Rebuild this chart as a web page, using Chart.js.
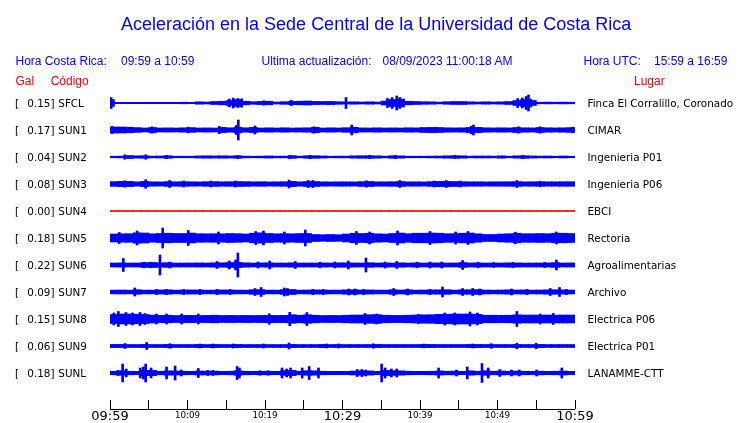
<!DOCTYPE html>
<html><head><meta charset="utf-8">
<script src="https://cdn.jsdelivr.net/npm/chart.js@4"></script>
<style>
html,body{margin:0;padding:0;background:#fff;}
#wrap{position:relative;width:740px;height:423px;overflow:hidden;background:#fff;}
#c{position:absolute;left:0;top:0;width:740px;height:423px;}
.t{position:absolute;white-space:pre;line-height:1;transform:translateY(-50%);}
.hdr{font-family:"Liberation Sans",Arial,sans-serif;font-size:12px;color:#0000ff;}
.ttl{font-family:"Liberation Sans",Arial,sans-serif;font-size:18px;color:#0000ff;}
.red{color:#ff0000;}
.lab{font-family:"DejaVu Sans",sans-serif;font-size:10.4px;color:#000;}
</style></head>
<body><div id="wrap"><canvas id="c" width="740" height="423"></canvas></div>
<script>
// ---------------- data ----------------
const title = 'Aceleración en la Sede Central de la Universidad de Costa Rica';
const hdrLocalLabel = 'Hora Costa Rica:';
const hdrLocalRange = '09:59 a 10:59';
const hdrUpdLabel = 'Ultima actualización:';
const hdrUpdValue = '08/09/2023 11:00:18 AM';
const hdrUtcLabel = 'Hora UTC:';
const hdrUtcRange = '15:59 a 16:59';
const colGal = 'Gal', colCode = 'Código', colPlace = 'Lugar';

const stations = ['SFCL','SUN1','SUN2','SUN3','SUN4','SUN5','SUN6','SUN7','SUN8','SUN9','SUNL'];
const places = ['Finca El Corralillo, Coronado','CIMAR','Ingenieria P01','Ingenieria P06','EBCI','Rectoria','Agroalimentarias','Archivo','Electrica P06','Electrica P01','LANAMME-CTT'];
const galValues = [0.15,0.17,0.04,0.08,0.00,0.18,0.22,0.09,0.15,0.06,0.18];
// x ticks every 5 minutes from 09:59
const timeLabels = ['09:59','','10:09','','10:19','','10:29','','10:39','','10:49','','10:59'];
const majorLabels = ['09:59','10:29','10:59'];

// per-minute envelope half-amplitudes (trace units), minute 0..59
const bandSFCL = [0.7,0.7,0.7,0.7,0.7,0.7,0.7,0.7,0.7,0.8, 0.7,1.2,1.0,1.5,1.8,2.5,3.5,1.8,1.3,1.6, 1.8,1.0,1.3,1.6,1.8,2.0,1.6,1.5,1.6,1.3, 1.0,1.2,1.0,1.2,1.0,2.0,3.5,4.0,1.8,1.5, 1.3,1.2,0.9,1.3,1.5,1.5,1.2,1.0,1.2,1.0, 1.2,1.5,2.5,3.5,2.5,0.8,0.9,0.8,0.9,0.8];
const bandSUN1 = [3.0,3.0,2.8,2.4,2.0,2.5,2.0,2.1,2.0,2.2, 2.4,2.0,2.1,2.0,2.6,2.2,2.8,2.2,2.6,2.0, 2.2,2.0,2.2,2.0,2.1,2.2,2.7,2.0,2.2,2.0, 2.3,2.8,2.1,2.0,2.2,2.0,2.1,2.0,2.2,2.1, 2.5,2.6,2.5,2.2,2.1,2.2,2.6,2.6,2.2,2.1, 2.2,2.1,2.5,2.2,2.1,2.5,2.2,2.1,2.2,2.4];
const bandSUN2 = [0.8,0.9,1.5,1.2,1.3,0.9,1.0,1.3,0.8,0.8, 0.8,1.1,1.2,1.1,1.2,1.1,1.3,0.9,0.8,0.9, 1.1,0.9,0.9,1.4,0.9,1.3,1.3,1.1,0.8,0.9, 0.9,1.2,1.3,1.3,1.2,0.9,1.3,1.2,0.8,0.8, 0.8,0.9,1.0,1.2,1.3,1.2,0.9,1.0,1.0,0.9, 1.2,0.8,1.2,1.3,1.1,0.9,1.0,0.8,1.0,0.8];
const bandSUN3 = [2.4,2.6,2.6,2.2,2.6,2.2,2.1,2.4,2.2,2.3, 2.2,2.1,2.3,2.4,2.2,2.3,2.5,2.4,2.2,2.3, 2.1,2.2,2.3,2.6,2.2,2.5,2.5,2.2,2.1,2.2, 2.2,2.1,2.4,2.5,2.2,2.2,2.3,2.5,2.2,2.2, 2.1,2.4,2.6,2.6,2.5,2.3,2.2,2.2,2.1,2.2, 2.2,2.3,2.4,2.2,2.2,2.3,2.2,2.2,2.3,2.3];
const bandSUN4 = [0,0,0,0,0,0,0,0,0,0, 0,0,0,0,0,0,0,0,0,0, 0,0,0,0,0,0,0,0,0,0, 0,0,0,0,0,0,0,0,0,0, 0,0,0,0,0,0,0,0,0,0, 0,0,0,0,0,0,0,0,0,0];
const bandSUN5 = [4.0,4.2,4.3,5.2,5.0,4.2,4.5,4.8,4.5,4.5, 5.0,4.3,4.2,4.3,4.2,4.5,4.3,4.0,4.8,5.2, 4.5,4.2,4.3,4.2,4.5,4.5,3.5,3.3,3.5,3.3, 4.0,4.8,4.5,4.8,4.2,4.0,4.5,5.0,4.3,4.8, 4.8,5.0,4.8,4.3,4.3,4.8,5.0,4.2,3.5,3.5, 4.0,4.3,4.8,4.3,4.3,4.5,4.3,4.8,4.8,4.5];
const bandSUN6 = [2.0,2.1,2.0,2.0,2.4,2.5,2.2,2.3,2.0,2.0, 2.0,2.1,2.0,2.2,2.2,2.5,2.6,2.2,2.0,2.1, 2.2,2.0,2.0,2.2,2.0,2.0,2.0,2.1,2.0,2.2, 2.2,2.1,2.0,2.3,2.0,2.1,2.0,2.2,2.0,2.1, 2.0,2.1,2.1,2.0,2.0,2.5,2.1,2.1,2.0,2.0, 2.0,2.2,2.1,2.0,2.0,2.0,2.1,2.4,2.0,2.1];
const bandSUN7 = [1.9,2.0,1.9,2.3,1.9,1.9,2.1,2.2,1.9,2.0, 2.1,2.0,1.9,1.9,2.1,2.0,1.9,1.9,2.3,2.4, 1.9,1.9,2.4,2.5,1.9,2.0,2.1,2.1,1.9,1.9, 2.2,2.3,2.0,2.1,1.9,1.9,2.3,2.0,2.2,1.9, 2.0,2.1,2.2,2.3,1.9,2.2,2.3,2.4,2.0,1.9, 2.0,2.2,2.0,2.1,1.9,2.0,2.2,2.3,2.2,2.0];
const bandSUN8 = [4.5,5.0,5.0,4.8,4.5,4.0,3.6,3.8,3.5,3.6, 3.7,3.5,3.6,3.8,3.5,3.6,3.5,3.6,3.5,3.6, 3.7,3.6,3.7,4.3,3.8,4.3,3.8,3.5,3.6,3.5, 3.8,4.0,4.0,4.3,4.4,3.8,3.6,3.6,3.8,4.0, 4.2,4.3,4.7,4.8,5.0,5.0,5.0,4.6,3.8,3.8, 3.7,3.8,4.2,4.0,4.0,3.9,4.0,3.9,4.0,4.0];
const bandSUN9 = [1.6,1.6,1.5,1.5,1.6,1.5,1.5,1.6,1.5,1.5, 1.5,1.6,1.5,1.6,1.5,1.5,1.6,1.5,1.5,1.5, 1.5,1.5,1.5,1.6,1.5,1.5,1.5,1.6,1.5,1.5, 1.5,1.5,1.5,1.5,1.6,1.5,1.5,1.5,1.5,1.5, 1.6,1.6,1.5,1.5,1.5,1.5,1.6,1.6,1.5,1.5, 1.5,1.5,1.6,1.5,1.5,1.6,1.5,1.5,1.5,1.5];
const bandSUNL = [1.8,2.3,1.8,1.7,2.6,2.6,1.8,2.2,2.0,1.8, 1.7,2.0,1.9,1.9,1.7,1.8,2.3,1.8,1.7,1.8, 1.8,1.7,2.4,2.6,1.8,2.3,2.2,1.8,1.7,1.7, 1.7,2.0,2.2,2.1,1.7,2.6,2.4,2.2,1.8,1.7, 1.7,1.8,2.1,1.8,1.9,1.7,2.2,1.8,2.3,1.8, 2.0,1.8,2.0,1.8,1.7,1.9,1.7,1.8,2.0,1.7];

// short bursts / peaks: [minute, half-amplitude]
const spikesSFCL = [[0.15,5.5],[0.45,3.5],[15.4,4],[15.9,5],[16.5,4.5],[17.0,4.2],[19.8,2.2],[23.4,2.6],[30.45,5.5],[35.8,4.5],[36.4,5.5],[37.0,7],[37.4,5.5],[52.6,4.5],[53.2,5],[53.7,6.5],[54.0,8],[54.3,4]];
const spikesSUN1 = [[0.3,3.5],[5.4,3.2],[10.1,2.8],[14.1,3.6],[16.3,4.5],[16.56,10],[18.7,4],[26.3,3.2],[31.2,5],[42.0,2.8],[46.6,3.8],[46.9,5],[52.7,3.2],[55.5,3.2],[59.7,2.8]];
const spikesSUN2 = [[1.9,2.2],[4.6,2.2],[7.3,1.7],[16.5,1.7],[23.2,1.7],[25.8,1.7],[33.5,1.7],[36.8,1.7],[44.5,1.7],[53.3,1.7]];
const spikesSUN3 = [[1.9,3.2],[4.6,4.3],[7.7,3.5],[9.5,3],[13.0,3],[16.2,3],[23.1,4],[25.6,3.5],[26.2,3.5],[33.1,3.2],[37.4,3.5],[41.8,3],[43.4,3.5],[45.2,3],[52.5,3.5],[55.5,2.8]];
const spikesSUN4 = [];
const spikesSUN5 = [[1.2,5.5],[3.5,7],[6.8,10],[10.1,7.5],[14.0,6],[18.8,6.5],[19.8,7],[22.5,6],[25.2,8],[31.8,6.5],[33.5,6],[37.1,7],[41.3,6.5],[44.6,6],[46.2,6.5],[52.3,5.8],[57.6,6]];
const spikesSUN6 = [[1.72,6.5],[4.4,2.8],[5.3,2.8],[6.45,10],[7.7,3],[13.8,3.5],[15.4,4],[16.2,5],[16.5,12],[19.1,3],[20.6,4],[23.9,3.5],[27.1,2.8],[29.0,3],[30.75,4],[33.03,7],[35.5,3],[37.0,3.5],[39.6,2.8],[41.3,3],[42.8,3],[45.5,4.5],[47.5,2.8],[49.5,2.5],[52.0,2.5],[56.1,2.5],[57.6,5]];
const spikesSUN7 = [[3.2,4],[6.0,2.6],[7.3,2.6],[9.5,2.6],[11.6,2.6],[13.8,2.6],[15.5,2.6],[18.7,3.5],[19.5,4.5],[22.5,4],[22.9,3.5],[26.2,2.6],[27.5,2.6],[30.8,3],[31.6,3],[32.7,2.6],[36.6,3.5],[38.4,3],[41.3,2.6],[42.9,5],[45.5,3.5],[46.8,3.5],[47.7,3],[51.8,3],[53.8,2.6],[56.8,3.5],[58.0,4.5],[58.9,2.6]];
const spikesSUN8 = [[0.5,6],[1.08,7.5],[2.06,6.5],[2.9,6],[3.87,6.5],[4.5,5.5],[6.0,5],[7.3,5],[9.25,5],[11.4,5],[20.56,5.2],[23.2,6.7],[25.4,6.5],[32.9,5.5],[34.4,5],[39.8,4.8],[43.2,6],[44.5,6],[46.45,7],[47.4,6],[52.5,7.5],[55.5,5],[57.2,5.5]];
const spikesSUN9 = [[1.94,2.5],[4.73,3.5],[7.74,2.3],[11.6,2],[13.3,2],[15.9,2],[19.8,2],[23.1,3],[27.95,2],[29.5,2],[33.97,2.2],[40.5,1.9],[46.8,2],[49.2,2.3],[52.5,2.8],[55.0,2.8]];
const spikesSUNL = [[1.0,2.5],[1.63,9],[2.1,4],[3.9,5],[4.3,6],[4.6,9],[5.3,5],[7.3,6],[8.4,7],[9.2,3],[11.4,4.5],[12.6,2.5],[13.3,2.5],[16.4,6.5],[16.7,5],[19.35,2.2],[20.4,2.2],[22.2,5],[22.8,4],[23.3,5],[24.8,5],[25.7,6.5],[26.9,5],[31.9,3.5],[32.5,3.5],[33.0,3],[35.05,9],[35.5,5],[36.3,4],[37.0,4],[42.4,5],[44.7,3],[46.1,6],[48.0,9.5],[48.8,5],[50.3,3.5],[51.8,3],[52.8,3],[55.05,3],[58.3,5]];

const bands = [bandSFCL,bandSUN1,bandSUN2,bandSUN3,bandSUN4,bandSUN5,bandSUN6,bandSUN7,bandSUN8,bandSUN9,bandSUNL];
const spikes = [spikesSFCL,spikesSUN1,spikesSUN2,spikesSUN3,spikesSUN4,spikesSUN5,spikesSUN6,spikesSUN7,spikesSUN8,spikesSUN9,spikesSUNL];

// ---------------- layout / style ----------------
const LANE = 27;          // vertical spacing between traces (trace units)
const MIN_HALF = 0.5;
const BLUE = '#0000ff', RED = '#ff0000';
const PLOT = {left:110, right:575, top:90, bottom:400};
const FONT_BIG = {family: '"DejaVu Sans", sans-serif', size: 13, lineHeight: 1.2};
const FONT_SMALL = {family: '"DejaVu Sans", sans-serif', size: 8.7, lineHeight: 1.6};

Chart.defaults.font.family = '"DejaVu Sans", sans-serif';
Chart.defaults.color = '#000';

const datasets = [];
stations.forEach((s, i) => {
  const color = galValues[i] === 0 ? RED : BLUE;
  const c = i * LANE;
  datasets.push({
    data: bands[i].map((a, m) => { const h = Math.max(a, MIN_HALF); return {x: m + 0.5, y: [c - h, c + h]}; }),
    backgroundColor: color, borderWidth: 0, barThickness: 8, grouped: false
  });
  if (spikes[i].length) datasets.push({
    data: spikes[i].map(([t, a]) => ({x: t, y: [c - a, c + a]})),
    backgroundColor: color, borderWidth: 0, barThickness: 2, grouped: false
  });
});

const axisLinePlugin = {
  id: 'axisLine',
  afterDraw(chart) {
    const xs = chart.scales.x, ctx = chart.ctx;
    const y = Math.round(xs.top + 9) + 0.5;
    ctx.save();
    ctx.strokeStyle = '#000'; ctx.lineWidth = 1;
    ctx.beginPath();
    ctx.moveTo(xs.getPixelForValue(0), y);
    ctx.lineTo(xs.getPixelForValue(60), y);
    ctx.stroke();
    ctx.restore();
  }
};

function tickFont(ctx) {
  if (!ctx || !ctx.tick) return FONT_BIG;
  const lbl = timeLabels[Math.round(ctx.tick.value / 5)];
  return majorLabels.includes(lbl) ? FONT_BIG : FONT_SMALL;
}

const chart = new Chart(document.getElementById('c'), {
  type: 'bar',
  data: {datasets},
  plugins: [axisLinePlugin],
  options: {
    responsive: false, animation: false, devicePixelRatio: 1,
    layout: {padding: {left: PLOT.left, right: 740 - PLOT.right, top: PLOT.top, bottom: 0}},
    plugins: {legend: {display: false}, tooltip: {enabled: false}, title: {display: false}},
    scales: {
      x: {
        type: 'linear', min: 0, max: 60, offset: false,
        afterFit: (s) => { s.height = 423 - PLOT.bottom; },
        ticks: {
          stepSize: 5, autoSkip: false, maxRotation: 0, minRotation: 0, padding: 0, color: '#000',
          callback: (v) => timeLabels[Math.round(v / 5)],
          font: tickFont
        },
        grid: {offset: false, drawOnChartArea: false, drawTicks: true, tickLength: 9, color: '#000', lineWidth: 1},
        border: {display: false}
      },
      y: {
        type: 'linear', display: false, reverse: true,
        min: -13, max: (stations.length - 1) * LANE + LANE
      }
    }
  }
});

// ---------------- text ----------------
const wrap = document.getElementById('wrap');
function addText(txt, cls, x, y) {
  const d = document.createElement('div');
  d.className = 't ' + cls;
  d.textContent = txt;
  d.style.left = x + 'px';
  d.style.top = y + 'px';
  wrap.appendChild(d);
  return d;
}
addText(title, 'ttl', 121, 23.5);
addText(hdrLocalLabel, 'hdr', 15.5, 61);
addText(hdrLocalRange, 'hdr', 121, 61);
addText(hdrUpdLabel, 'hdr', 261.5, 61);
addText(hdrUpdValue, 'hdr', 382.5, 61);
addText(hdrUtcLabel, 'hdr', 583.5, 61);
addText(hdrUtcRange, 'hdr', 654, 61);
addText(colGal, 'hdr red', 15.5, 81);
addText(colCode, 'hdr red', 50.7, 81);
addText(colPlace, 'hdr red', 634, 81);

const ys = chart.scales.y;
stations.forEach((s, i) => {
  const y = ys.getPixelForValue(i * LANE);
  addText('[', 'lab', 15, y);
  addText(galValues[i].toFixed(2) + ']', 'lab', 27.3, y);
  addText(s, 'lab', 58.3, y);
  addText(places[i], 'lab', 587.5, y);
});
</script>
</body></html>
